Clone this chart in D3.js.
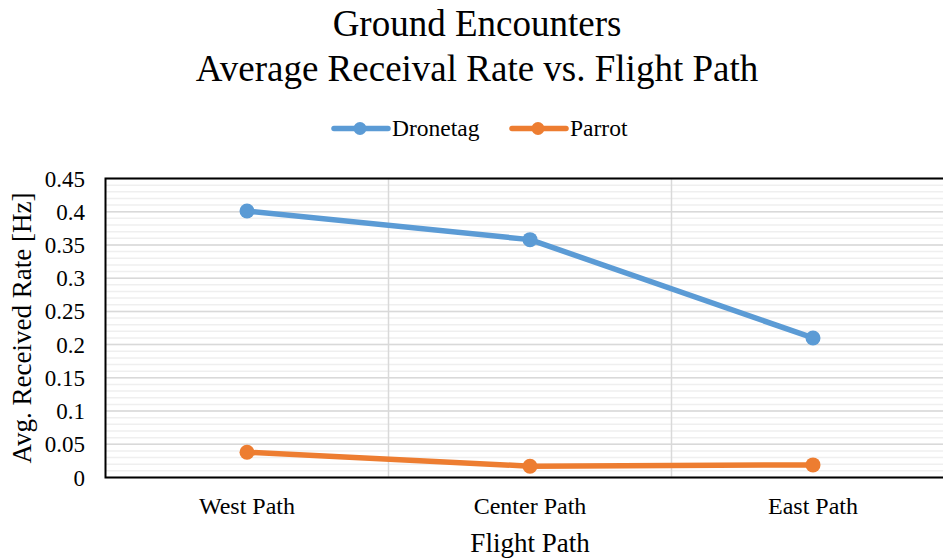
<!DOCTYPE html>
<html><head><meta charset="utf-8">
<script src="https://cdn.jsdelivr.net/npm/d3@7"></script>
<style>body{margin:0;background:#fff;}svg{display:block;font-family:"Liberation Serif","Times New Roman",serif;}</style>
</head><body>
<svg id="c" width="943" height="558"></svg>
<script>
const categories = ["West Path", "Center Path", "East Path"];
const dronetag = [0.401, 0.358, 0.21];
const parrot = [0.038, 0.017, 0.019];
const seriesNames = ["Dronetag", "Parrot"];
const seriesColors = ["#5b9bd5", "#ed7d31"];
const yTicks = [0, 0.05, 0.1, 0.15, 0.2, 0.25, 0.3, 0.35, 0.4, 0.45];
const yTickLabels = ["0", "0.05", "0.1", "0.15", "0.2", "0.25", "0.3", "0.35", "0.4", "0.45"];

const svg = d3.select("#c");
const L = 105.5, R = 954.5, T = 178.5, B = 477.5;
const x = d3.scaleBand().domain(categories).range([L, R]);
const y = d3.scaleLinear().domain([0, 0.45]).range([B, T]);

// minor gridlines
const minor = d3.range(0, 46).map(i => i / 100);
svg.append("g").selectAll("line").data(minor).join("line")
  .attr("x1", L).attr("x2", R).attr("y1", d => y(d)).attr("y2", d => y(d))
  .attr("stroke", "#efefef").attr("stroke-width", 1.5);
svg.append("g").selectAll("line").data(yTicks).join("line")
  .attr("x1", L).attr("x2", R).attr("y1", d => y(d)).attr("y2", d => y(d))
  .attr("stroke", "#d9d9d9").attr("stroke-width", 1.5);
// vertical gridlines at category boundaries
svg.append("g").selectAll("line").data(categories.slice(1)).join("line")
  .attr("x1", d => x(d)).attr("x2", d => x(d)).attr("y1", T).attr("y2", B)
  .attr("stroke", "#d9d9d9").attr("stroke-width", 1.5);

// frame
svg.append("rect").attr("x", L).attr("y", T).attr("width", R - L).attr("height", B - T)
  .attr("fill", "none").attr("stroke", "#000").attr("stroke-width", 2);

// y tick labels
svg.append("g").selectAll("text").data(yTicks).join("text")
  .attr("x", 85).attr("y", d => y(d)).attr("dy", "0.35em")
  .attr("text-anchor", "end").attr("font-size", 23).attr("fill", "#000")
  .text((d, i) => yTickLabels[i]);

// x labels
svg.append("g").selectAll("text").data(categories).join("text")
  .attr("x", d => x(d) + x.bandwidth() / 2).attr("y", 514)
  .attr("text-anchor", "middle").attr("font-size", 24).attr("fill", "#000")
  .text(d => d);

// axis titles
svg.append("text").attr("x", 530).attr("y", 552).attr("text-anchor", "middle")
  .attr("font-size", 27).text("Flight Path");
svg.append("text").attr("transform", "translate(31,328) rotate(-90)").attr("text-anchor", "middle")
  .attr("font-size", 27).text("Avg. Received Rate [Hz]");

// title
svg.append("text").attr("x", 477).attr("y", 36).attr("text-anchor", "middle").attr("font-size", 37).text("Ground Encounters");
svg.append("text").attr("x", 477).attr("y", 81).attr("text-anchor", "middle").attr("font-size", 37).text("Average Receival Rate vs. Flight Path");

// series
const data = [dronetag, parrot];
const line = d3.line().x((d, i) => x(categories[i]) + x.bandwidth() / 2).y(d => y(d));
data.forEach((vals, s) => {
  svg.append("path").datum(vals).attr("d", line).attr("fill", "none")
    .attr("stroke", seriesColors[s]).attr("stroke-width", 5.5).attr("stroke-linejoin", "round").attr("stroke-linecap", "round");
  svg.append("g").selectAll("circle").data(vals).join("circle")
    .attr("cx", (d, i) => x(categories[i]) + x.bandwidth() / 2).attr("cy", d => y(d))
    .attr("r", 7.5).attr("fill", seriesColors[s]);
});

// legend
const legX = [334, 512];
seriesNames.forEach((n, s) => {
  const g = svg.append("g").attr("transform", `translate(${legX[s]},128.5)`);
  g.append("line").attr("x1", 0).attr("x2", 54).attr("y1", 0).attr("y2", 0)
    .attr("stroke", seriesColors[s]).attr("stroke-width", 5.5).attr("stroke-linecap", "round");
  g.append("circle").attr("cx", 26).attr("cy", 0).attr("r", 6.5).attr("fill", seriesColors[s]);
  g.append("text").attr("x", 58).attr("y", 0).attr("dy", "0.33em").attr("font-size", 23.5).text(n);
});
</script>
</body></html>
